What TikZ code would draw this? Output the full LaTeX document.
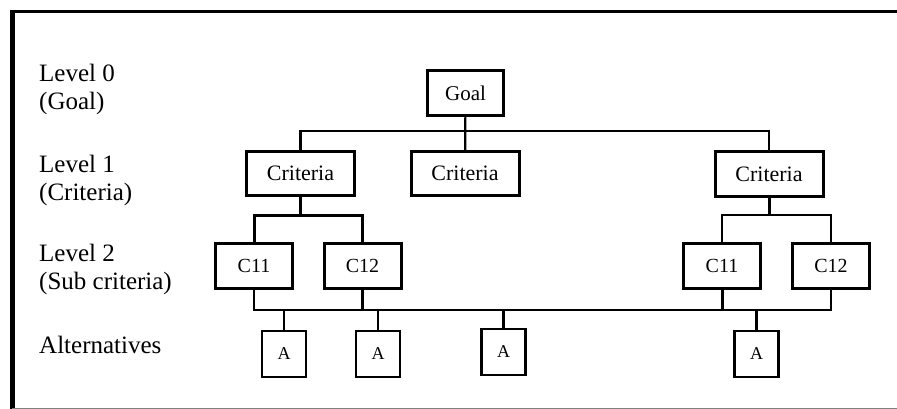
\documentclass[tikz,border=0pt]{standalone}
\usepackage{fontspec}
\setmainfont{Liberation Serif}
\usepackage{tikz}
\usetikzlibrary{positioning, calc}

\begin{document}
\begin{tikzpicture}[x=1pt, y=-1pt,
  levellabel/.style={anchor=north west, align=left, inner sep=0pt, font=\fontsize{25}{28}\selectfont},
  critbox/.style={draw, line width=3pt, inner sep=0pt, minimum width=108pt, minimum height=44pt, font=\fontsize{22}{26}\selectfont},
  subbox/.style={draw, line width=3pt, inner sep=0pt, minimum width=77pt, minimum height=45pt, font=\fontsize{20}{24}\selectfont},
  altbox/.style={draw, line width=2.6pt, inner sep=0pt, minimum width=44pt, minimum height=46pt, font=\fontsize{18}{22}\selectfont},
  link/.style={line width=2.2pt}
]
  \useasboundingbox (0,0) rectangle (897,409);

  % Frame
  \draw[line width=3pt] (10,11.3) -- (897,11.3);
  \draw[line width=5pt] (12.5,10) -- (12.5,409);
  \draw[gray, line width=1pt] (12,408) -- (897,408);

  % Level labels
  \node[levellabel] (lvl0) at (39,64) {Level 0\\(Goal)};
  \node[levellabel] (lvl1) at (39,155) {Level 1\\(Criteria)};
  \node[levellabel] (lvl2) at (39,244) {Level 2\\(Sub criteria)};
  \node[levellabel] (lvlalt) at (39,336) {Alternatives};

  % Goal and criteria
  \node[critbox, minimum width=76pt, minimum height=45pt, font=\fontsize{21}{25}\selectfont] (goal) at (465.5,93) {Goal};
  \node[critbox] (crit1) at (300.5,173.5) {Criteria};
  \node[critbox] (crit2) at (465,173.5) {Criteria};
  \node[critbox] (crit3) at (769,174) {Criteria};

  % Sub criteria
  \node[subbox] (c11a) at (254,266) {C11};
  \node[subbox] (c12a) at (362.5,266) {C12};
  \node[subbox] (c11b) at (722,265.5) {C11};
  \node[subbox] (c12b) at (831,265.5) {C12};

  % Alternatives
  \node[altbox] (alt1) at (284,354) {A};
  \node[altbox] (alt2) at (378,354) {A};
  \node[altbox] (alt3) at (503.5,352) {A};
  \node[altbox] (alt4) at (756.5,354) {A};

  % Bus lines
  \coordinate (bus0) at (465.5,131);
  \coordinate (bus1) at (300.5,215);
  \coordinate (bus3) at (769,215);
  \coordinate (bus2) at (500,310);

  % Goal -> criteria
  \draw[link] (goal) -- (crit2);
  \draw[link] (crit1.north) |- (bus0) -| (crit3.north);

  % Criteria -> sub criteria
  \draw[link] (crit1.south) -- (bus1);
  \draw[link, line width=3pt] (c11a.north) |- (bus1) -| (c12a.north);
  \draw[link, line width=3pt] (crit3.south) -- (bus3);
  \draw[link] (c11b.north) |- (bus3) -| (c12b.north);

  % Sub criteria -> alternatives
  \draw[link] (c11a.south) |- (bus2) -| (c12b.south);
  \draw[link] (c12a.south) -- (c12a.south |- bus2);
  \draw[link, line width=3pt] (c11b.south) -- (c11b.south |- bus2);
  \foreach \a in {alt1, alt2, alt3, alt4}
    \draw[link] (\a.north) -- (\a.north |- bus2);
\end{tikzpicture}
\end{document}
